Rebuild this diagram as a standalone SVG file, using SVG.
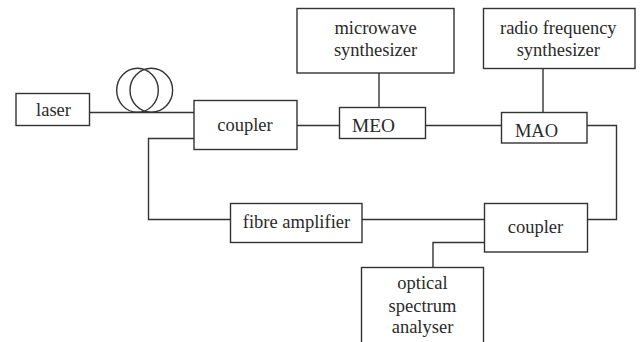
<svg xmlns="http://www.w3.org/2000/svg" width="641" height="342" viewBox="0 0 641 342">
<style>
rect{fill:#fff;stroke:#333;stroke-width:1.4}
.c{fill:none;stroke:#333;stroke-width:1.4}
text{font-family:"Liberation Serif","Times New Roman",serif;font-size:18.5px;fill:#2a2a2a;text-anchor:middle}
</style>
<rect width="641" height="342" style="fill:#fff;stroke:none"/>
<g id="connectors">
<path class="c" d="M89.500 112.500H194"/>
<ellipse class="c" cx="137.500" cy="90.300" rx="20.800" ry="22"/>
<ellipse class="c" cx="151.300" cy="90.300" rx="21.300" ry="22"/>
<path class="c" d="M194 138.500H148.500V219.500H230.500"/>
<path class="c" d="M297 125.500H339.500"/>
<path class="c" d="M379 73V107.500"/>
<path class="c" d="M425.500 125.500H501.500"/>
<path class="c" d="M543 68.500V112.500"/>
<path class="c" d="M587 125.500H616.500V219.500H587.500"/>
<path class="c" d="M362 219.500H484.500"/>
<path class="c" d="M484.500 242.500H433V267.500"/>
</g>
<g id="laser"><rect x="16" y="93.500" width="73.500" height="32"/><text x="53.500" y="116">laser</text></g>
<g id="coupler1"><rect x="194" y="100.500" width="103" height="49"/><text x="245" y="131">coupler</text></g>
<g id="microwave"><rect x="297" y="8.500" width="157" height="64.500"/><text x="375.500" y="33.500">microwave</text><text x="375.500" y="56">synthesizer</text></g>
<g id="rf"><rect x="483.500" y="8.500" width="151.500" height="60"/><text x="558.300" y="33.500">radio frequency</text><text x="558.300" y="56">synthesizer</text></g>
<g id="meo"><rect x="339.500" y="107.500" width="86" height="31"/><text x="373.500" y="132" textLength="43" lengthAdjust="spacingAndGlyphs">MEO</text></g>
<g id="mao"><rect x="501.500" y="112.500" width="85.500" height="30.500"/><text x="536.500" y="136.500">MAO</text></g>
<g id="fibre"><rect x="230.500" y="203.500" width="131.500" height="39"/><text x="296.500" y="228">fibre amplifier</text></g>
<g id="coupler2"><rect x="484.500" y="203.500" width="103" height="48.500"/><text x="535.500" y="233">coupler</text></g>
<g id="osa"><rect x="361.500" y="267.500" width="122" height="90"/><text x="422.500" y="289">optical</text><text x="422.500" y="311.500">spectrum</text><text x="422.500" y="333">analyser</text></g>
</svg>
